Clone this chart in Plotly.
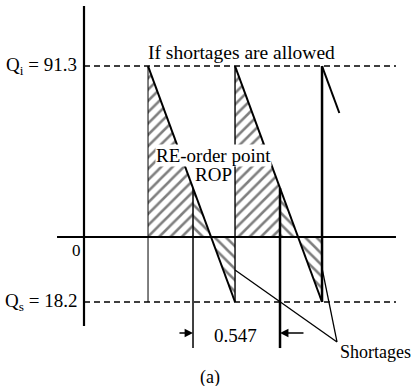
import plotly.graph_objects as go

# schematic drawing: time in cycle units from the stock axis,
# heights in drawing units (the sketch is not to scale)
cycle_starts = [0.736, 1.736, 2.736]
level_names = ["Q<sub>i</sub> = 91.3", "0", "Q<sub>s</sub> = 18.2"]
level_top = 2.63       # drawn height of Qi = 91.3
level_zero = 0.0
level_bottom = -1.0    # drawn height of Qs = 18.2 (shortage)
rop_offset = 0.517     # ROP reached this far into each cycle
rop_level = 0.753      # height of ROP on the drawing
zero_offset = 0.7245   # stock hits zero this far into each cycle
last_stub = [0.199, 1.908]   # partial third drop (dt, level)
dim_value = "0.547"
shortage_tip = [2.908, -1.615]
shortage_from = [[1.736, -0.508], [2.736, -0.48]]

FONT = "Liberation Serif, Times New Roman, serif"
fig = go.Figure()


def seg(xs, ys, width=2, dash=None):
    fig.add_trace(go.Scatter(x=xs, y=ys, mode="lines",
                             line=dict(color="black", width=width, dash=dash),
                             hoverinfo="skip", showlegend=False))


def hatch(xs, ys, shape):
    fig.add_trace(go.Scatter(x=xs, y=ys, mode="lines", fill="toself",
                             line=dict(width=0, color="black"),
                             fillcolor="white",
                             fillpattern=dict(shape=shape, size=8, solidity=0.32,
                                              fgcolor="black", bgcolor="white"),
                             hoverinfo="skip", showlegend=False))


# hatched areas for the two full cycles
for s in cycle_starts[:2]:
    hatch([s, s, s + rop_offset, s + rop_offset, s],
          [level_top, level_zero, level_zero, rop_level, level_top], "/")
    hatch([s + rop_offset, s + rop_offset, s + zero_offset, s + rop_offset],
          [rop_level, level_zero, level_zero, rop_level], "\\")
    hatch([s + zero_offset, s + 1, s + 1, s + zero_offset],
          [level_zero, level_zero, level_bottom, level_zero], "\\")

# guide lines
seg([0, 3.586], [level_top, level_top], 1.5, "6px,4px")
seg([0, 3.586], [level_bottom, level_bottom], 1.5, "6px,4px")
seg([-0.31, 3.586], [level_zero, level_zero], 2)
seg([0, 0], [3.554, -1.369], 2.2)

# replenishment verticals and the saw-tooth drops
seg([cycle_starts[0]] * 2, [level_bottom, level_top], 1)
seg([cycle_starts[1]] * 2, [level_bottom, level_top], 1.4)
seg([cycle_starts[2]] * 2, [level_bottom, level_top], 2.5)
for s in cycle_starts[:2]:
    seg([s, s + 1], [level_top, level_bottom], 2)
seg([cycle_starts[2], cycle_starts[2] + last_stub[0]], [level_top, last_stub[1]], 2)

# ROP markers (extend down for the dimension)
seg([cycle_starts[0] + rop_offset] * 2, [rop_level, -1.708], 1.5)
seg([cycle_starts[1] + rop_offset] * 2, [rop_level, -1.708], 2.5)

# shortage pointers
for p in shortage_from:
    seg([p[0], shortage_tip[0]], [p[1], shortage_tip[1]], 1.3)

ann = []


def text(t, x, y, size=19, anchor="center", bg=None):
    a = dict(text=t, x=x, y=y, xref="x", yref="y", showarrow=False,
             xanchor=anchor, yanchor="middle",
             font=dict(family=FONT, size=size, color="black"))
    if bg:
        a.update(bgcolor=bg, borderpad=0)
    ann.append(a)


text(level_names[0], -0.06, level_top, anchor="right")
text(level_names[2], -0.06, level_bottom, anchor="right")
text(level_names[1], -0.092, -0.215, size=17)
text("If shortages are allowed", 1.805, 2.846, size=19.5)
text("RE-order point", 1.483, 1.26, bg="white")
text("ROP", 1.483, 0.96, bg="white")
text(dim_value, 1.747, -1.508)
text("Shortages", 2.92, -1.77, size=18, anchor="left")
text("(a)", 1.448, -2.154, size=18)

dim_y = -1.477
for head, tail in [(cycle_starts[0] + rop_offset, 1.08), (cycle_starts[1] + rop_offset, 2.54)]:
    ann.append(dict(x=head, y=dim_y, ax=tail, ay=dim_y, xref="x", yref="y",
                    axref="x", ayref="y", text="", showarrow=True,
                    arrowhead=2, arrowsize=1.2, arrowwidth=1.4, arrowcolor="black",
                    standoff=0, startstandoff=0))

fig.update_layout(
    width=411, height=386,
    margin=dict(l=0, r=0, t=0, b=0),
    paper_bgcolor="white", plot_bgcolor="white",
    xaxis=dict(range=[-0.9655, 3.7586], visible=False, fixedrange=True),
    yaxis=dict(range=[-2.292, 3.646], visible=False, fixedrange=True),
    annotations=ann,
    showlegend=False,
)

# drop the page's default body margin so the sketch fills the window
fig.write_html("out.html", config={"displayModeBar": False},
               post_script="document.body.style.margin='0px';")
